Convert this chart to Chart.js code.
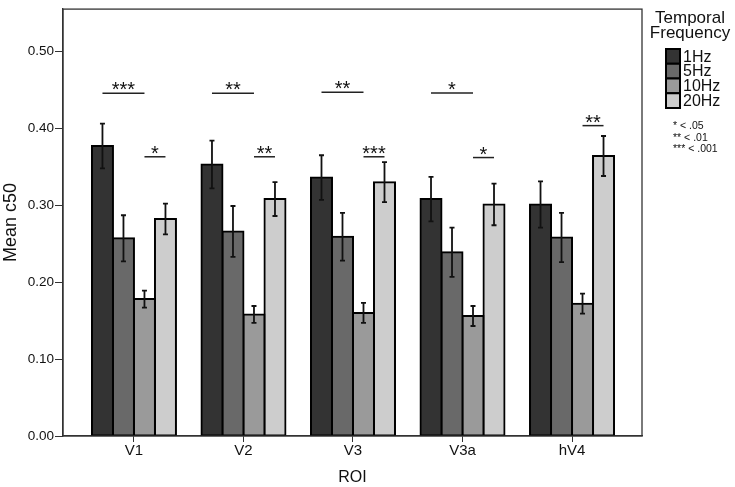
<!DOCTYPE html>
<html>
<head>
<meta charset="utf-8">
<script src="https://cdn.jsdelivr.net/npm/chart.js@4/dist/chart.umd.min.js"></script>
<style>
  html, body { margin: 0; padding: 0; background: #fff; }
  #wrap { width: 735px; height: 487px; }
</style>
</head>
<body>
<div id="wrap"><canvas id="c50Chart" width="735" height="487"></canvas></div>
<script>
// ---------- Data ----------
const roiLabels = ["V1", "V2", "V3", "V3a", "hV4"];
const freqLabels = ["1Hz", "5Hz", "10Hz", "20Hz"];

const mean1Hz  = [0.377, 0.353, 0.336, 0.308, 0.301];
const mean5Hz  = [0.257, 0.266, 0.259, 0.239, 0.258];
const mean10Hz = [0.178, 0.158, 0.160, 0.156, 0.172];
const mean20Hz = [0.282, 0.308, 0.330, 0.301, 0.364];

const sem1Hz  = [0.029, 0.031, 0.029, 0.029, 0.030];
const sem5Hz  = [0.030, 0.033, 0.031, 0.032, 0.032];
const sem10Hz = [0.011, 0.011, 0.013, 0.013, 0.013];
const sem20Hz = [0.020, 0.022, 0.026, 0.027, 0.026];

const yTicks = [0, 0.1, 0.2, 0.3, 0.4, 0.5];

// significance brackets: [roi, fromBar, toBar, level, stars]
const sigBrackets = [
  [0, 0, 2, 0.4455, "***"], [0, 2, 3, 0.363, "*"],
  [1, 0, 2, 0.4455, "**"],  [1, 2, 3, 0.363, "**"],
  [2, 0, 2, 0.447, "**"],   [2, 2, 3, 0.363, "***"],
  [3, 0, 2, 0.446, "*"],    [3, 2, 3, 0.362, "*"],
  [4, 2, 3, 0.4035, "**"],
];
const sigNotes = ["* < .05", "** < .01", "*** < .001"];

const FONT = "'Liberation Sans', Arial, Helvetica, sans-serif";
const barColors = ["#333333", "#696969", "#9a9a9a", "#cdcdcd"];
const means = [mean1Hz, mean5Hz, mean10Hz, mean20Hz];
const sems = [sem1Hz, sem5Hz, sem10Hz, sem20Hz];

// ---------- Overlay: error bars, brackets, frame, legend ----------
const overlay = {
  id: "overlay",
  afterDatasetsDraw(chart) {
    const { ctx, chartArea: a, scales: { y } } = chart;
    ctx.save();

    // error bars
    ctx.strokeStyle = "#111";
    ctx.lineWidth = 1.8;
    chart.data.datasets.forEach((ds, d) => {
      chart.getDatasetMeta(d).data.forEach((bar, i) => {
        const v = means[d][i], e = sems[d][i];
        const hi = y.getPixelForValue(v + e);
        const lo = y.getPixelForValue(v - e);
        ctx.beginPath();
        ctx.moveTo(bar.x, hi); ctx.lineTo(bar.x, lo);
        ctx.moveTo(bar.x - 2.5, hi); ctx.lineTo(bar.x + 2.5, hi);
        ctx.moveTo(bar.x - 2.5, lo); ctx.lineTo(bar.x + 2.5, lo);
        ctx.stroke();
      });
    });

    // significance brackets
    ctx.lineWidth = 1.5;
    ctx.strokeStyle = "#222";
    ctx.fillStyle = "#111";
    ctx.font = "20px " + FONT;
    ctx.textAlign = "center";
    ctx.textBaseline = "alphabetic";
    sigBrackets.forEach(([roi, from, to, level, stars]) => {
      const x1 = chart.getDatasetMeta(from).data[roi].x;
      const x2 = chart.getDatasetMeta(to).data[roi].x;
      const py = y.getPixelForValue(level);
      ctx.beginPath();
      ctx.moveTo(x1, py); ctx.lineTo(x2, py);
      ctx.stroke();
      ctx.fillText(stars, (x1 + x2) / 2, py + 3);
    });

    // frame
    ctx.strokeStyle = "#333";
    ctx.lineWidth = 1.3;
    ctx.strokeRect(a.left, a.top, a.right - a.left, a.bottom - a.top);
    ctx.restore();
  },
  afterDraw(chart) {
    const { ctx } = chart;
    ctx.save();
    ctx.fillStyle = "#111";
    ctx.textAlign = "center";
    ctx.textBaseline = "alphabetic";
    ctx.font = "17px " + FONT;
    ctx.fillText("Temporal", 690, 23);
    ctx.fillText("Frequency", 690, 38);

    ctx.textAlign = "left";
    ctx.font = "16px " + FONT;
    const bh = 14.75;
    chart.data.datasets.forEach((ds, d) => {
      const top = 49 + d * bh;
      ctx.fillStyle = ds.backgroundColor;
      ctx.fillRect(666, top, 14, bh);
      ctx.strokeStyle = "#000";
      ctx.lineWidth = 2;
      ctx.strokeRect(666, top, 14, bh);
      ctx.fillStyle = "#111";
      ctx.fillText(ds.label, 683, top + 12.7);
    });

    ctx.font = "10.5px " + FONT;
    sigNotes.forEach((t, i) => ctx.fillText(t, 673, 129 + i * 11.6));
    ctx.restore();
  },
};

// ---------- Chart ----------
new Chart(document.getElementById("c50Chart"), {
  type: "bar",
  data: {
    datasets: freqLabels.map((label, d) => ({
      label,
      data: means[d].map((v, i) => ({ x: i, y: v })),
      backgroundColor: barColors[d],
      borderColor: "#000",
      borderWidth: 2,
      borderSkipped: false,
      inflateAmount: 1,
      barThickness: 21,
    })),
  },
  options: {
    responsive: false,
    animation: false,
    layout: { padding: { left: 0, right: 93, top: 3, bottom: 0 } },
    plugins: { legend: { display: false }, tooltip: { enabled: false } },
    scales: {
      x: {
        type: "linear",
        offset: false,
        min: -0.648,
        max: 4.639,
        afterFit: (s) => { s.height = 51; },
        afterBuildTicks: (s) => { s.ticks = roiLabels.map((_, i) => ({ value: i })); },
        ticks: {
          callback: (v) => roiLabels[v],
          color: "#111",
          padding: 0,
          font: { family: FONT, size: 15 },
        },
        grid: { offset: false, drawOnChartArea: false, drawTicks: true, tickLength: 6, color: "#333" },
        border: { display: true, color: "#333", width: 1.3 },
        title: {
          display: true,
          text: "ROI",
          color: "#111",
          padding: { top: 0, bottom: 0 },
          font: { family: FONT, size: 16 },
        },
      },
      y: {
        min: 0,
        max: 0.555,
        afterFit: (s) => { s.width = 63; },
        afterBuildTicks: (s) => { s.ticks = yTicks.map((v) => ({ value: v })); },
        ticks: {
          callback: (v) => v.toFixed(2),
          color: "#111",
          padding: 1,
          font: { family: FONT, size: 13.5 },
        },
        grid: { drawOnChartArea: false, drawTicks: true, tickLength: 8, color: "#333" },
        border: { display: true, color: "#333", width: 1.3 },
        title: {
          display: true,
          text: "Mean c50",
          color: "#111",
          padding: { top: 0, bottom: 0 },
          font: { family: FONT, size: 18 },
        },
      },
    },
  },
  plugins: [overlay],
});
</script>
</body>
</html>
